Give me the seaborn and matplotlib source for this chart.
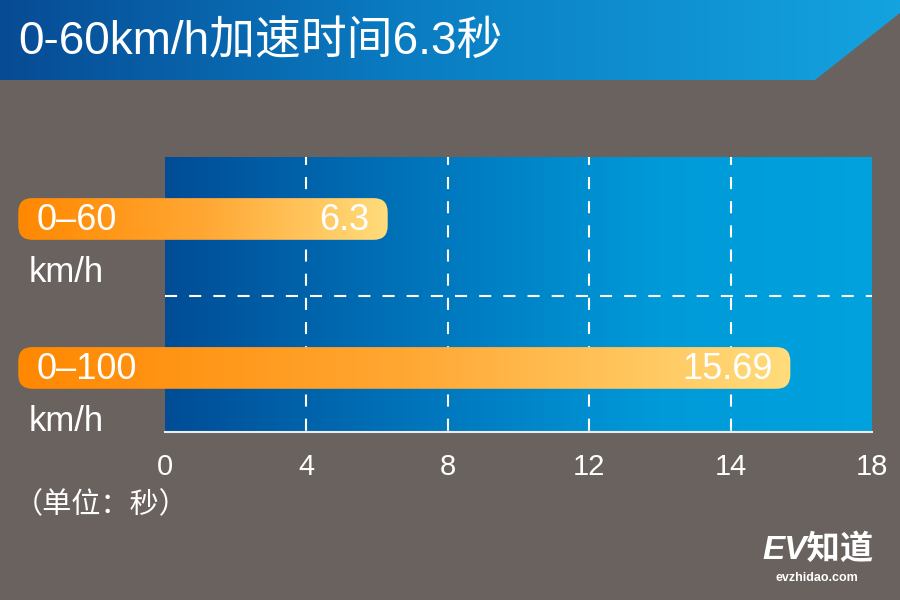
import numpy as np
import pandas as pd
import matplotlib
matplotlib.use('Agg')
import matplotlib.pyplot as plt
from matplotlib.colors import LinearSegmentedColormap
from matplotlib.patches import FancyBboxPatch, Polygon
import seaborn as sns

# Данные графика
speed_ranges = ['0–60', '0–100']
unit_labels = ['km/h', 'km/h']
accel_times = [6.3, 15.69]
tick_values = [0, 4, 8, 12, 14, 18]
tick_labels = ['0', '4', '8', '12', '14', '18']

title_text = '0-60km/h加速时间6.3秒'
unit_note = '（单位：秒）'
logo_text = 'EV知道'
logo_url = 'evzhidao.com'

BG = '#6a625e'
BAR_LEFT = -4.15  # полоса начинается левее оси

# Кусочно-линейная шкала: метки стоят на равных расстояниях
tick_pos = np.arange(len(tick_values), dtype=float)


def fwd(x):
    x = np.asarray(x, dtype=float)
    y = np.interp(x, tick_values, tick_pos)
    y = np.where(x < tick_values[0], (x - tick_values[0]) / 4, y)
    y = np.where(x > tick_values[-1], tick_pos[-1] + (x - tick_values[-1]) / 4, y)
    return y


def inv(y):
    y = np.asarray(y, dtype=float)
    x = np.interp(y, tick_pos, tick_values)
    x = np.where(y < 0, y * 4, x)
    x = np.where(y > tick_pos[-1], tick_values[-1] + (y - tick_pos[-1]) * 4, x)
    return x


sns.set_theme(style='white')
plt.rcParams['font.family'] = ['Liberation Sans', 'Noto Sans CJK SC']

fig = plt.figure(figsize=(9, 6), dpi=100, facecolor=BG)
ax = fig.add_axes([165 / 900, 168 / 600, 707 / 900, 275 / 600])
ax.set_facecolor(BG)

df = pd.DataFrame({'range': speed_ranges, 'time': accel_times})
sns.barplot(data=df, x='time', y='range', orient='h', width=0.28, ax=ax)
for p in ax.patches:
    p.set_visible(False)

grad = np.linspace(0, 1, 256).reshape(1, -1)

# Градиентный фон области графика
plot_cmap = LinearSegmentedColormap.from_list(
    'plotbg', [(0, '#004d96'), (0.4, '#0079bf'), (0.7, '#009ad9'), (1, '#00a2de')])
ax.imshow(grad, cmap=plot_cmap, extent=(0, 1, 0, 1), transform=ax.transAxes,
          aspect='auto', zorder=0)

ax.set_xscale('function', functions=(fwd, inv))
ax.set_xlim(tick_values[0], tick_values[-1])
ax.set_ylim(1.43, -0.416)
ax.set_xticks(tick_values, tick_labels)
ax.set_yticks([])
ax.set_xlabel('')
ax.set_ylabel('')
ax.tick_params(axis='x', length=0, pad=15, labelsize=21, labelcolor='white')
for s in ['top', 'right', 'left']:
    ax.spines[s].set_visible(False)
ax.spines['bottom'].set_color('#e6edf5')
ax.spines['bottom'].set_linewidth(1.5)

# Пунктирная сетка
ax.vlines(tick_values[1:-1], -0.416, 1.43, colors='white', linewidth=1.5,
          linestyles=(2, (5.8, 5.8)), zorder=1)
ax.axhline(0.52, color='white', linewidth=1.5, linestyle=(0, (5.8, 5.8)), zorder=1)

# Верхний слой в пикселях
ov = fig.add_axes([0, 0, 1, 1], zorder=5)
ov.patch.set_alpha(0)
ov.axis('off')

# Шапка с заголовком
banner_cmap = LinearSegmentedColormap.from_list(
    'banner', [(0, '#074b94'), (0.45, '#0a7cc2'), (1, '#14a3df')])
banner = Polygon([(0, 600), (900, 600), (900, 587), (815, 520), (0, 520)],
                 closed=True, transform=ov.transData, fc='none', ec='none')
ov.add_patch(banner)
im = ov.imshow(grad, cmap=banner_cmap, extent=(0, 900, 520, 600), aspect='auto')
im.set_clip_path(banner)
ov.text(18, 558, title_text, color='white', fontsize=33, va='center')

# Полосы с градиентом
bar_cmap = LinearSegmentedColormap.from_list('bar', ['#ff8800', '#ffa733', '#ffdc7c'])
for patch, rng, unit, t in zip(ax.patches, speed_ranges, unit_labels, accel_times):
    y0 = patch.get_y()
    h = patch.get_height()
    x_end = patch.get_x() + patch.get_width()
    (px0, py0), (px1, py1) = ax.transData.transform([(BAR_LEFT, y0), (x_end, y0 + h)])
    left, right = min(px0, px1), max(px0, px1)
    bottom, top = min(py0, py1), max(py0, py1)
    box = FancyBboxPatch((left, bottom), right - left, top - bottom,
                         boxstyle='round,pad=0,rounding_size=14',
                         transform=ov.transData, fc='none', ec='none')
    ov.add_patch(box)
    bim = ov.imshow(grad, cmap=bar_cmap, extent=(left, right, bottom, top),
                    aspect='auto', zorder=2)
    bim.set_clip_path(box)
    yc = (top + bottom) / 2 - 2
    ov.text(left + 18, yc, rng, color='white', fontsize=26, va='center', zorder=3)
    ov.text(left + 10, yc - 52, unit, color='white', fontsize=25, va='center', zorder=3)
    ov.text(right - 18, yc, f'{t:g}', color='white', fontsize=26, va='center',
            ha='right', zorder=3)

ov.text(14, 95, unit_note, color='white', fontsize=21, va='center',
        family=['Noto Sans CJK SC'])

# Логотип
ov.text(818, 50, logo_text, color='white', fontsize=24, fontweight='heavy',
        style='italic', ha='center', va='center')
ov.text(817, 22, logo_url, color='white', fontsize=9, fontweight='bold',
        ha='center', va='center')

ov.set_xlim(0, 900)
ov.set_ylim(0, 600)

fig.savefig('out.png', dpi=100, facecolor=BG)
